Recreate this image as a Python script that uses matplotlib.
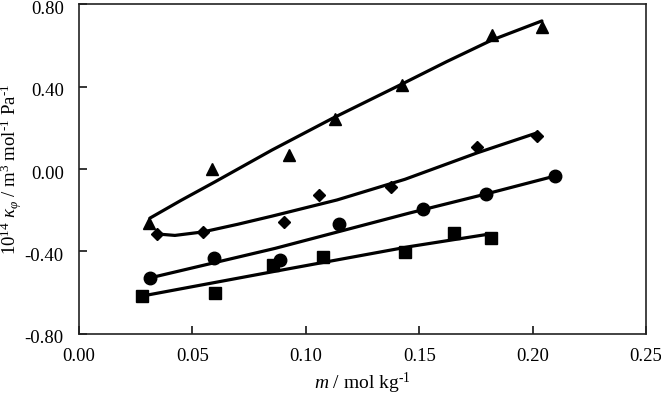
import matplotlib
matplotlib.use('Agg')
import matplotlib.pyplot as plt
import matplotlib.transforms as mtransforms

plt.rcParams['font.family'] = ['Liberation Serif', 'DejaVu Serif']
plt.rcParams['mathtext.fontset'] = 'custom'
plt.rcParams['mathtext.rm'] = 'Liberation Serif'
plt.rcParams['mathtext.it'] = 'Liberation Serif:italic'

# measured points (m / mol kg-1, 10^14 kappa_phi)
tri_m = [0.0309, 0.0586, 0.0926, 0.1129, 0.1424, 0.1821, 0.2041]
tri_k = [-0.262, 0.000, 0.068, 0.242, 0.407, 0.650, 0.688]
dia_m = [0.0344, 0.0547, 0.0904, 0.1058, 0.1376, 0.1755, 0.2019]
dia_k = [-0.315, -0.305, -0.257, -0.126, -0.087, 0.107, 0.160]
cir_m = [0.0313, 0.0595, 0.0886, 0.1146, 0.1517, 0.1795, 0.2099]
cir_k = [-0.528, -0.432, -0.441, -0.267, -0.194, -0.121, -0.034]
sq_m = [0.0278, 0.0600, 0.0855, 0.1076, 0.1437, 0.1653, 0.1817]
sq_k = [-0.614, -0.601, -0.465, -0.427, -0.402, -0.310, -0.335]

# fitted curves
tri_fit_m = [0.0313, 0.0450, 0.0600, 0.0851, 0.1120, 0.1415, 0.1620, 0.1820, 0.2041]
tri_fit_k = [-0.238, -0.152, -0.062, 0.092, 0.247, 0.407, 0.520, 0.625, 0.718]
dia_fit_m = [0.0344, 0.0423, 0.0547, 0.0700, 0.0853, 0.1138, 0.1437, 0.1755, 0.2019]
dia_fit_k = [-0.315, -0.322, -0.305, -0.268, -0.228, -0.150, -0.050, 0.078, 0.175]
cir_fit_m = [0.0313, 0.0864, 0.1459, 0.1795, 0.2099]
cir_fit_k = [-0.528, -0.385, -0.213, -0.121, -0.034]
sq_fit_m = [0.0278, 0.0864, 0.1459, 0.1812]
sq_fit_k = [-0.616, -0.496, -0.376, -0.315]

x_ticks = [0.00, 0.05, 0.10, 0.15, 0.20, 0.25]
y_ticks = [-0.80, -0.40, 0.00, 0.40, 0.80]

fig = plt.figure(figsize=(6.61, 3.97), dpi=100)
ax = fig.add_axes([0.1195, 0.1587, 0.8578, 0.8312])

lw = 2.3
for fm, fk in [(tri_fit_m, tri_fit_k), (dia_fit_m, dia_fit_k),
               (cir_fit_m, cir_fit_k), (sq_fit_m, sq_fit_k)]:
    ax.plot(fm, fk, color='black', lw=lw, solid_capstyle='round', zorder=2)

ax.plot(tri_m, tri_k, '^', color='black', ms=9, zorder=3)
ax.plot(dia_m, dia_k, 'D', color='black', ms=6, zorder=3)
ax.plot(cir_m, cir_k, 'o', color='black', ms=9, zorder=3)
ax.plot(sq_m, sq_k, 's', color='black', ms=8.5, zorder=3)

ax.set_xlim(0, 0.25)
ax.set_ylim(-0.8, 0.8)
ax.set_xticks(x_ticks)
ax.set_yticks(y_ticks)
ax.set_xticklabels([f'{v:.2f}' for v in x_ticks])
ax.set_yticklabels([f'{v:.2f}' for v in y_ticks])
ax.tick_params(direction='in', length=6, width=1.1, labelsize=13.5,
               top=False, right=False)
ax.tick_params(axis='y', pad=11)
ax.tick_params(axis='x', pad=10)

# y tick labels sit a little below their ticks in the original
shift = mtransforms.ScaledTranslation(0, -0.03, fig.dpi_scale_trans)
for lab in ax.get_yticklabels():
    lab.set_transform(lab.get_transform() + shift)

for sp in ax.spines.values():
    sp.set_linewidth(1.2)
    sp.set_color('#222222')

hy = '\u2010'  # plain hyphen in the exponents, as in the original
ax.set_xlabel(r'$m$ / mol kg$^{' + hy + '1}$', fontsize=14, va='top')
ax.set_ylabel(r'10$^{14}$ $\kappa_{\varphi}$ / m$^{3}$ mol$^{' + hy + '1}$ Pa$^{' + hy + '1}$',
              fontsize=13.5, va='center')
ax.xaxis.set_label_coords(0.5, -0.112)
ax.yaxis.set_label_coords(-0.119, 0.5)

fig.savefig('out.png', dpi=100)
